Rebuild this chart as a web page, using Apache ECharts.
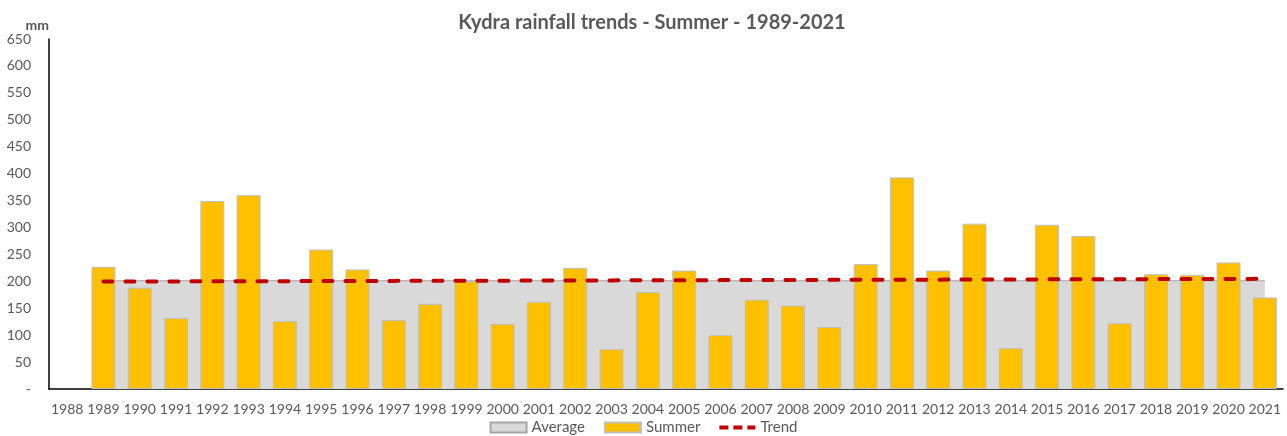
<!DOCTYPE html>
<html>
<head>
<meta charset="utf-8">
<script src="https://cdn.jsdelivr.net/npm/echarts@6/dist/echarts.min.js"></script>
<style>
  html, body { margin: 0; padding: 0; background: #fff; }
  #chart { width: 1287px; height: 436px; }
</style>
</head>
<body>
<div id="chart"></div>
<script>
const years = ["1988", "1989", "1990", "1991", "1992", "1993", "1994", "1995", "1996", "1997",
  "1998", "1999", "2000", "2001", "2002", "2003", "2004", "2005", "2006", "2007", "2008",
  "2009", "2010", "2011", "2012", "2013", "2014", "2015", "2016", "2017", "2018", "2019",
  "2020", "2021"];

// summer rainfall, mm (no data for 1988)
const summer = [null, 227, 188, 132, 349, 360, 126, 259, 222, 128,
  158, 200, 121, 162, 225, 74, 180, 220, 100, 166, 155,
  115, 232, 393, 220, 307, 76, 305, 284, 122, 213, 212,
  235, 170];

const average = [null, 201, 201, 201, 201, 201, 201, 201, 201, 201,
  201, 201, 201, 201, 201, 201, 201, 201, 201, 201, 201,
  201, 201, 201, 201, 201, 201, 201, 201, 201, 201, 201,
  201, 201];

const trend = [null, 199.5, 199.7, 199.8, 200.0, 200.1, 200.3, 200.5, 200.6, 200.8,
  200.9, 201.1, 201.2, 201.4, 201.6, 201.7, 201.9, 202.0, 202.2, 202.3, 202.5,
  202.7, 202.8, 203.0, 203.1, 203.3, 203.5, 203.6, 203.8, 203.9, 204.1, 204.2,
  204.4, 204.6];

const FONT = "Lato, 'Open Sans', sans-serif";
const GREY_TEXT = "#595959";

const chart = echarts.init(document.getElementById("chart"));

chart.setOption({
  animation: false,
  title: {
    text: "Kydra rainfall trends - Summer - 1989-2021",
    left: 647,
    textAlign: "center",
    top: 8,
    textStyle: { fontFamily: FONT, fontSize: 20, fontWeight: "bold", color: GREY_TEXT }
  },
  legend: {
    top: 420,
    left: "center",
    padding: 0,
    itemWidth: 36,
    itemHeight: 10,
    itemGap: 19,
    textStyle: { fontFamily: FONT, fontSize: 15, lineHeight: 15, color: GREY_TEXT },
    data: [
      { name: "Average", icon: "rect" },
      { name: "Summer", icon: "rect" },
      { name: "Trend", icon: "path://M0,0h9v4h-9z M14,0h9v4h-9z M28,0h8v4h-8z" }
    ]
  },
  grid: { left: 49, right: 4, top: 39, bottom: 47 },
  xAxis: {
    type: "category",
    data: years,
    axisLine: { lineStyle: { color: "#000", width: 1.5 } },
    axisTick: { show: false },
    axisLabel: { margin: 13, fontFamily: FONT, fontSize: 14, color: GREY_TEXT, interval: 0 }
  },
  yAxis: {
    type: "value",
    min: 0,
    max: 650,
    interval: 50,
    name: "mm",
    nameLocation: "end",
    nameGap: 3,
    nameTextStyle: { fontFamily: FONT, fontSize: 14, fontWeight: "bold", color: GREY_TEXT, align: "right" },
    axisLine: { show: true, lineStyle: { color: "#000", width: 1.5 } },
    axisTick: { show: false },
    splitLine: { show: false },
    axisLabel: {
      margin: 18,
      fontFamily: FONT, fontSize: 14, color: GREY_TEXT,
      formatter: v => (v === 0 ? "-" : String(v))
    }
  },
  series: [
    {
      name: "Average",
      type: "line",
      data: average,
      z: 1,
      symbol: "none",
      lineStyle: { color: "#a6a6a6", width: 1 },
      itemStyle: { color: "#d9d9d9", borderColor: "#a6a6a6", borderWidth: 1 },
      areaStyle: { color: "#d9d9d9", opacity: 1 }
    },
    {
      name: "Summer",
      type: "bar",
      data: summer,
      z: 2,
      barCategoryGap: "34%",
      itemStyle: { color: "#ffc000", borderColor: "#bfbfbf", borderWidth: 1 }
    },
    {
      name: "Trend",
      type: "line",
      data: trend,
      z: 3,
      symbol: "none",
      itemStyle: { color: "#c00000" },
      lineStyle: { color: "#c00000", width: 4, type: [9, 13], cap: "round" }
    }
  ]
});
</script>
</body>
</html>
